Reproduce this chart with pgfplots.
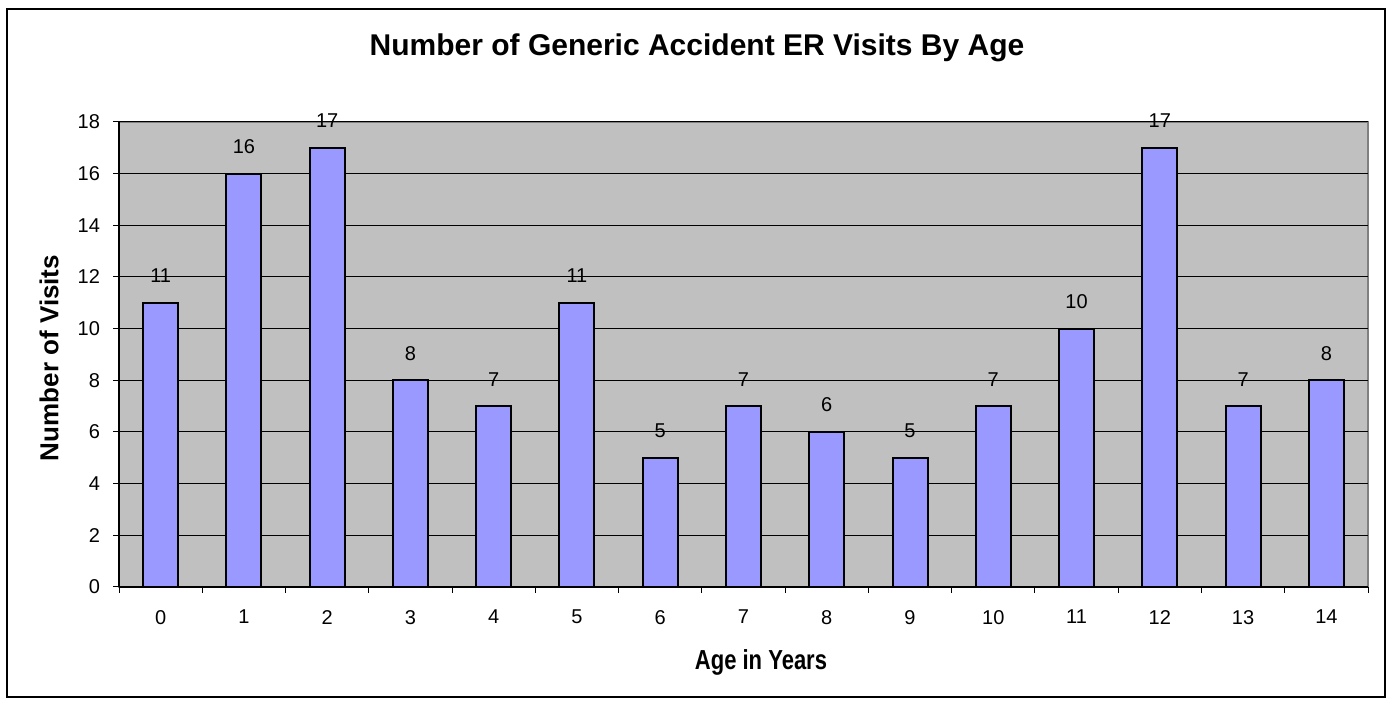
\documentclass[border=0pt]{standalone}
\usepackage{fontspec}
\setmainfont{Liberation Sans}
\usepackage{pgfplots}
\pgfplotsset{compat=1.18}
\definecolor{barblue}{HTML}{9999FF}
\definecolor{plotgray}{HTML}{C0C0C0}
\definecolor{framegray}{HTML}{808080}
\begin{document}
\begin{tikzpicture}
\path[use as bounding box] (0pt,0pt) rectangle (694pt,352pt);
\draw[black,line width=0.8pt] (3.5pt,347.5pt) rectangle (692.5pt,3.5pt);
\node[font=\bfseries\fontsize{15}{17}\selectfont] at (348.5pt,328pt) {Number of Generic Accident ER Visits By Age};
\begin{axis}[
  at={(59.5pt,58.5pt)}, anchor=south west,
  scale only axis, width=624.5pt, height=232.5pt,
  xmin=-0.5, xmax=14.5, ymin=0, ymax=18,
  ytick={0,2,...,18},
  xtick={0,...,14},
  minor xtick={-0.5,0.5,...,14.5},
  major x tick style={draw=none},
  minor x tick style={black, line width=0.5pt},
  y tick style={black, line width=0.5pt},
  tick align=outside,
  major tick length=3pt,
  minor tick length=3pt,
  axis x line*=bottom, axis y line*=left,
  axis line style={black, line width=0.6pt, -},
  axis background/.style={fill=plotgray, draw=framegray, line width=1pt},
  ymajorgrids, grid style={black, line width=0.5pt},
  tick label style={font=\fontsize{10}{12}\selectfont},
  /pgf/number format/assume math mode=true,
  xticklabel style={yshift=-5pt},
  yticklabel style={xshift=-3pt},
  clip=false,
]
\addplot[ybar, bar width=0.42, fill=barblue, draw=black, line width=1pt,
  nodes near coords,
  every node near coord/.append style={font=\fontsize{10}{12}\selectfont, anchor=south, inner sep=0pt, yshift=9.5pt, black}]
coordinates {
(0,11) (1,16) (2,17) (3,8) (4,7) (5,11) (6,5) (7,7) (8,6) (9,5) (10,7) (11,10) (12,17) (13,7) (14,8)
};
\end{axis}
\node[font=\bfseries\fontsize{11}{13}\selectfont] at (380.5pt,21pt) {\scalebox{1}[1.25]{Age in Years}};
\node[font=\bfseries\fontsize{13}{15}\selectfont, rotate=90] at (24.5pt,173pt) {Number of Visits};
\end{tikzpicture}
\end{document}
